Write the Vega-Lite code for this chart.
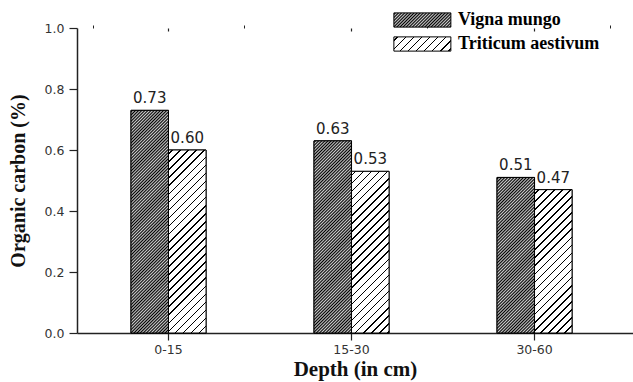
{
  "$schema": "https://vega.github.io/schema/vega-lite/v6.json",
  "width": 556,
  "height": 305,
  "autosize": "none",
  "padding": {"left": 77, "top": 28, "right": 0, "bottom": 49},
  "background": "white",
  "params": [
    {"name": "dense", "value": [
      {"offset":0,"color":"#ccc"},{"offset":0.005,"color":"#000"},{"offset":0.01,"color":"#ccc"},{"offset":0.015,"color":"#000"},{"offset":0.02,"color":"#ccc"},{"offset":0.025,"color":"#000"},{"offset":0.03,"color":"#ccc"},{"offset":0.035,"color":"#000"},{"offset":0.04,"color":"#ccc"},{"offset":0.045,"color":"#000"},
      {"offset":0.05,"color":"#ccc"},{"offset":0.055,"color":"#000"},{"offset":0.06,"color":"#ccc"},{"offset":0.065,"color":"#000"},{"offset":0.07,"color":"#ccc"},{"offset":0.075,"color":"#000"},{"offset":0.08,"color":"#ccc"},{"offset":0.085,"color":"#000"},{"offset":0.09,"color":"#ccc"},{"offset":0.095,"color":"#000"},
      {"offset":0.1,"color":"#ccc"},{"offset":0.105,"color":"#000"},{"offset":0.11,"color":"#ccc"},{"offset":0.115,"color":"#000"},{"offset":0.12,"color":"#ccc"},{"offset":0.125,"color":"#000"},{"offset":0.13,"color":"#ccc"},{"offset":0.135,"color":"#000"},{"offset":0.14,"color":"#ccc"},{"offset":0.145,"color":"#000"},
      {"offset":0.15,"color":"#ccc"},{"offset":0.155,"color":"#000"},{"offset":0.16,"color":"#ccc"},{"offset":0.165,"color":"#000"},{"offset":0.17,"color":"#ccc"},{"offset":0.175,"color":"#000"},{"offset":0.18,"color":"#ccc"},{"offset":0.185,"color":"#000"},{"offset":0.19,"color":"#ccc"},{"offset":0.195,"color":"#000"},
      {"offset":0.2,"color":"#ccc"},{"offset":0.205,"color":"#000"},{"offset":0.21,"color":"#ccc"},{"offset":0.215,"color":"#000"},{"offset":0.22,"color":"#ccc"},{"offset":0.225,"color":"#000"},{"offset":0.23,"color":"#ccc"},{"offset":0.235,"color":"#000"},{"offset":0.24,"color":"#ccc"},{"offset":0.245,"color":"#000"},
      {"offset":0.25,"color":"#ccc"},{"offset":0.255,"color":"#000"},{"offset":0.26,"color":"#ccc"},{"offset":0.265,"color":"#000"},{"offset":0.27,"color":"#ccc"},{"offset":0.275,"color":"#000"},{"offset":0.28,"color":"#ccc"},{"offset":0.285,"color":"#000"},{"offset":0.29,"color":"#ccc"},{"offset":0.295,"color":"#000"},
      {"offset":0.3,"color":"#ccc"},{"offset":0.305,"color":"#000"},{"offset":0.31,"color":"#ccc"},{"offset":0.315,"color":"#000"},{"offset":0.32,"color":"#ccc"},{"offset":0.325,"color":"#000"},{"offset":0.33,"color":"#ccc"},{"offset":0.335,"color":"#000"},{"offset":0.34,"color":"#ccc"},{"offset":0.345,"color":"#000"},
      {"offset":0.35,"color":"#ccc"},{"offset":0.355,"color":"#000"},{"offset":0.36,"color":"#ccc"},{"offset":0.365,"color":"#000"},{"offset":0.37,"color":"#ccc"},{"offset":0.375,"color":"#000"},{"offset":0.38,"color":"#ccc"},{"offset":0.385,"color":"#000"},{"offset":0.39,"color":"#ccc"},{"offset":0.395,"color":"#000"},
      {"offset":0.4,"color":"#ccc"},{"offset":0.405,"color":"#000"},{"offset":0.41,"color":"#ccc"},{"offset":0.415,"color":"#000"},{"offset":0.42,"color":"#ccc"},{"offset":0.425,"color":"#000"},{"offset":0.43,"color":"#ccc"},{"offset":0.435,"color":"#000"},{"offset":0.44,"color":"#ccc"},{"offset":0.445,"color":"#000"},
      {"offset":0.45,"color":"#ccc"},{"offset":0.455,"color":"#000"},{"offset":0.46,"color":"#ccc"},{"offset":0.465,"color":"#000"},{"offset":0.47,"color":"#ccc"},{"offset":0.475,"color":"#000"},{"offset":0.48,"color":"#ccc"},{"offset":0.485,"color":"#000"},{"offset":0.49,"color":"#ccc"},{"offset":0.495,"color":"#000"},
      {"offset":0.5,"color":"#ccc"},{"offset":0.505,"color":"#000"},{"offset":0.51,"color":"#ccc"},{"offset":0.515,"color":"#000"},{"offset":0.52,"color":"#ccc"},{"offset":0.525,"color":"#000"},{"offset":0.53,"color":"#ccc"},{"offset":0.535,"color":"#000"},{"offset":0.54,"color":"#ccc"},{"offset":0.545,"color":"#000"},
      {"offset":0.55,"color":"#ccc"},{"offset":0.555,"color":"#000"},{"offset":0.56,"color":"#ccc"},{"offset":0.565,"color":"#000"},{"offset":0.57,"color":"#ccc"},{"offset":0.575,"color":"#000"},{"offset":0.58,"color":"#ccc"},{"offset":0.585,"color":"#000"},{"offset":0.59,"color":"#ccc"},{"offset":0.595,"color":"#000"},
      {"offset":0.6,"color":"#ccc"},{"offset":0.605,"color":"#000"},{"offset":0.61,"color":"#ccc"},{"offset":0.615,"color":"#000"},{"offset":0.62,"color":"#ccc"},{"offset":0.625,"color":"#000"},{"offset":0.63,"color":"#ccc"},{"offset":0.635,"color":"#000"},{"offset":0.64,"color":"#ccc"},{"offset":0.645,"color":"#000"},
      {"offset":0.65,"color":"#ccc"},{"offset":0.655,"color":"#000"},{"offset":0.66,"color":"#ccc"},{"offset":0.665,"color":"#000"},{"offset":0.67,"color":"#ccc"},{"offset":0.675,"color":"#000"},{"offset":0.68,"color":"#ccc"},{"offset":0.685,"color":"#000"},{"offset":0.69,"color":"#ccc"},{"offset":0.695,"color":"#000"},
      {"offset":0.7,"color":"#ccc"},{"offset":0.705,"color":"#000"},{"offset":0.71,"color":"#ccc"},{"offset":0.715,"color":"#000"},{"offset":0.72,"color":"#ccc"},{"offset":0.725,"color":"#000"},{"offset":0.73,"color":"#ccc"},{"offset":0.735,"color":"#000"},{"offset":0.74,"color":"#ccc"},{"offset":0.745,"color":"#000"},
      {"offset":0.75,"color":"#ccc"},{"offset":0.755,"color":"#000"},{"offset":0.76,"color":"#ccc"},{"offset":0.765,"color":"#000"},{"offset":0.77,"color":"#ccc"},{"offset":0.775,"color":"#000"},{"offset":0.78,"color":"#ccc"},{"offset":0.785,"color":"#000"},{"offset":0.79,"color":"#ccc"},{"offset":0.795,"color":"#000"},
      {"offset":0.8,"color":"#ccc"},{"offset":0.805,"color":"#000"},{"offset":0.81,"color":"#ccc"},{"offset":0.815,"color":"#000"},{"offset":0.82,"color":"#ccc"},{"offset":0.825,"color":"#000"},{"offset":0.83,"color":"#ccc"},{"offset":0.835,"color":"#000"},{"offset":0.84,"color":"#ccc"},{"offset":0.845,"color":"#000"},
      {"offset":0.85,"color":"#ccc"}
    ]},
    {"name": "sparse", "value": [
      {"offset":0,"color":"#fff"},
      {"offset":0.012,"color":"#fff"},{"offset":0.012,"color":"#000"},{"offset":0.018,"color":"#000"},{"offset":0.018,"color":"#fff"},
      {"offset":0.042,"color":"#fff"},{"offset":0.042,"color":"#000"},{"offset":0.048,"color":"#000"},{"offset":0.048,"color":"#fff"},
      {"offset":0.072,"color":"#fff"},{"offset":0.072,"color":"#000"},{"offset":0.078,"color":"#000"},{"offset":0.078,"color":"#fff"},
      {"offset":0.102,"color":"#fff"},{"offset":0.102,"color":"#000"},{"offset":0.108,"color":"#000"},{"offset":0.108,"color":"#fff"},
      {"offset":0.132,"color":"#fff"},{"offset":0.132,"color":"#000"},{"offset":0.138,"color":"#000"},{"offset":0.138,"color":"#fff"},
      {"offset":0.162,"color":"#fff"},{"offset":0.162,"color":"#000"},{"offset":0.168,"color":"#000"},{"offset":0.168,"color":"#fff"},
      {"offset":0.192,"color":"#fff"},{"offset":0.192,"color":"#000"},{"offset":0.198,"color":"#000"},{"offset":0.198,"color":"#fff"},
      {"offset":0.222,"color":"#fff"},{"offset":0.222,"color":"#000"},{"offset":0.228,"color":"#000"},{"offset":0.228,"color":"#fff"},
      {"offset":0.252,"color":"#fff"},{"offset":0.252,"color":"#000"},{"offset":0.258,"color":"#000"},{"offset":0.258,"color":"#fff"},
      {"offset":0.282,"color":"#fff"},{"offset":0.282,"color":"#000"},{"offset":0.288,"color":"#000"},{"offset":0.288,"color":"#fff"},
      {"offset":0.312,"color":"#fff"},{"offset":0.312,"color":"#000"},{"offset":0.318,"color":"#000"},{"offset":0.318,"color":"#fff"},
      {"offset":0.342,"color":"#fff"},{"offset":0.342,"color":"#000"},{"offset":0.348,"color":"#000"},{"offset":0.348,"color":"#fff"},
      {"offset":0.372,"color":"#fff"},{"offset":0.372,"color":"#000"},{"offset":0.378,"color":"#000"},{"offset":0.378,"color":"#fff"},
      {"offset":0.402,"color":"#fff"},{"offset":0.402,"color":"#000"},{"offset":0.408,"color":"#000"},{"offset":0.408,"color":"#fff"},
      {"offset":0.432,"color":"#fff"},{"offset":0.432,"color":"#000"},{"offset":0.438,"color":"#000"},{"offset":0.438,"color":"#fff"},
      {"offset":0.462,"color":"#fff"},{"offset":0.462,"color":"#000"},{"offset":0.468,"color":"#000"},{"offset":0.468,"color":"#fff"},
      {"offset":0.492,"color":"#fff"},{"offset":0.492,"color":"#000"},{"offset":0.498,"color":"#000"},{"offset":0.498,"color":"#fff"},
      {"offset":0.522,"color":"#fff"},{"offset":0.522,"color":"#000"},{"offset":0.528,"color":"#000"},{"offset":0.528,"color":"#fff"},
      {"offset":0.552,"color":"#fff"},{"offset":0.552,"color":"#000"},{"offset":0.558,"color":"#000"},{"offset":0.558,"color":"#fff"},
      {"offset":0.582,"color":"#fff"},{"offset":0.582,"color":"#000"},{"offset":0.588,"color":"#000"},{"offset":0.588,"color":"#fff"},
      {"offset":0.612,"color":"#fff"},{"offset":0.612,"color":"#000"},{"offset":0.618,"color":"#000"},{"offset":0.618,"color":"#fff"},
      {"offset":0.642,"color":"#fff"},{"offset":0.642,"color":"#000"},{"offset":0.648,"color":"#000"},{"offset":0.648,"color":"#fff"},
      {"offset":0.672,"color":"#fff"},{"offset":0.672,"color":"#000"},{"offset":0.678,"color":"#000"},{"offset":0.678,"color":"#fff"},
      {"offset":0.702,"color":"#fff"},{"offset":0.702,"color":"#000"},{"offset":0.708,"color":"#000"},{"offset":0.708,"color":"#fff"},
      {"offset":0.732,"color":"#fff"},{"offset":0.732,"color":"#000"},{"offset":0.738,"color":"#000"},{"offset":0.738,"color":"#fff"},
      {"offset":0.762,"color":"#fff"},{"offset":0.762,"color":"#000"},{"offset":0.768,"color":"#000"},{"offset":0.768,"color":"#fff"},
      {"offset":0.792,"color":"#fff"},{"offset":0.792,"color":"#000"},{"offset":0.798,"color":"#000"},{"offset":0.798,"color":"#fff"},
      {"offset":0.822,"color":"#fff"},{"offset":0.822,"color":"#000"},{"offset":0.828,"color":"#000"},{"offset":0.828,"color":"#fff"},
      {"offset":0.852,"color":"#fff"},{"offset":0.852,"color":"#000"},{"offset":0.858,"color":"#000"},{"offset":0.858,"color":"#fff"}
    ]}
  ],
  "data": {"values": [
    {"depth": "0-15", "crop": "Vigna mungo", "value": 0.73},
    {"depth": "0-15", "crop": "Triticum aestivum", "value": 0.60},
    {"depth": "15-30", "crop": "Vigna mungo", "value": 0.63},
    {"depth": "15-30", "crop": "Triticum aestivum", "value": 0.53},
    {"depth": "30-60", "crop": "Vigna mungo", "value": 0.51},
    {"depth": "30-60", "crop": "Triticum aestivum", "value": 0.47}
  ]},
  "layer": [
    {
      "mark": {"type": "bar", "stroke": "black", "strokeWidth": 1},
      "encoding": {
        "x": {"field": "depth", "type": "nominal", "sort": ["0-15", "15-30", "30-60"],
          "scale": {"paddingInner": 0.18, "paddingOuter": 0.109, "align": 0.413},
          "axis": {"title": "Depth (in cm)", "labelAngle": 0, "tickSize": 7, "labelPadding": 3,
            "labelFont": "DejaVu Sans", "labelFontSize": 12.5, "labelColor": "#333",
            "titleFont": "Liberation Serif", "titleFontWeight": "bold", "titleFontSize": 21, "titleColor": "#111",
            "titleY": 42, "titleBaseline": "alphabetic",
            "domainColor": "#222", "domainWidth": 1.5, "tickColor": "#222", "tickWidth": 1.2}},
        "xOffset": {"field": "crop", "type": "nominal", "sort": ["Vigna mungo", "Triticum aestivum"],
          "scale": {"paddingInner": 0, "paddingOuter": 1}},
        "y": {"field": "value", "type": "quantitative",
          "scale": {"domain": [0, 1], "nice": false},
          "axis": {"title": "Organic carbon (%)", "values": [0, 0.2, 0.4, 0.6, 0.8, 1.0], "format": ".1f",
            "tickSize": 8, "labelPadding": 5,
            "labelFont": "DejaVu Sans", "labelFontSize": 12.5, "labelColor": "#333",
            "titleFont": "Liberation Serif", "titleFontWeight": "bold", "titleFontSize": 20, "titleColor": "#111",
            "titleX": -53, "titleAngle": -90, "titleAlign": "center", "titleBaseline": "alphabetic",
            "encode": {"title": {"y": {"value": 131}}},
            "domainColor": "#222", "domainWidth": 1.5, "tickColor": "#222", "tickWidth": 1.2}},
        "color": {"field": "crop", "type": "nominal", "sort": ["Vigna mungo", "Triticum aestivum"],
          "scale": {"range": [
            {"expr": "{gradient:'linear',x1:0,y1:0,x2:5.137,y2:1.284,stops:dense}"},
            {"expr": "{gradient:'linear',x1:0,y1:0,x2:4.437,y2:1.109,stops:sparse}"}
          ]},
          "legend": {"title": null, "orient": "none", "legendX": 315, "legendY": -17,
            "symbolType": "M-1,-1H7V1H-1Z", "symbolSize": 203,
            "symbolStrokeColor": "black", "symbolStrokeWidth": 1,
            "labelFont": "Liberation Serif", "labelFontWeight": "bold", "labelFontSize": 18, "labelColor": "#000",
            "labelOffset": 48, "rowPadding": 4, "padding": 0, "labelLimit": 300,
            "encode": {"symbols": {"update": {"stroke": {"value": "black"}, "strokeWidth": {"value": 1}}}}}}
      }
    },
    {
      "mark": {"type": "bar", "stroke": "black", "strokeWidth": 1,
        "fill": {"expr": "{gradient:'linear',x1:0,y1:0,x2:(datum.crop==='Vigna mungo'?311.13:268.7)*37.5/(1406.25+pow(datum.value*305,2)),y2:(datum.crop==='Vigna mungo'?311.13:268.7)*datum.value*305/(1406.25+pow(datum.value*305,2)),stops:datum.crop==='Vigna mungo'?dense:sparse}"}},
      "encoding": {
        "x": {"field": "depth", "type": "nominal", "sort": ["0-15", "15-30", "30-60"],
          "axis": {"tickBand": "extent", "tickSize": 3, "labels": false, "domain": false, "title": null, "tickColor": "#222"}},
        "xOffset": {"field": "crop", "type": "nominal", "sort": ["Vigna mungo", "Triticum aestivum"]},
        "y": {"field": "value", "type": "quantitative",
          "axis": {"values": [0.1, 0.3, 0.5, 0.7, 0.9], "tickSize": 4, "labels": false, "domain": false, "title": null, "tickColor": "#222"}}
      }
    },
    {
      "mark": {"type": "text", "dy": -7, "baseline": "alphabetic", "font": "DejaVu Sans", "fontSize": 15, "fill": "#222"},
      "encoding": {
        "x": {"field": "depth", "type": "nominal", "sort": ["0-15", "15-30", "30-60"],
          "axis": {"tickSize": -3, "labels": false, "domain": false, "title": null, "tickColor": "#222", "tickWidth": 1.2}},
        "xOffset": {"field": "crop", "type": "nominal", "sort": ["Vigna mungo", "Triticum aestivum"]},
        "y": {"field": "value", "type": "quantitative", "axis": null},
        "text": {"field": "value", "type": "quantitative", "format": ".2f"}
      }
    }
  ],
  "resolve": {"axis": {"x": "independent", "y": "independent"}},
  "config": {
    "view": {"stroke": null},
    "axis": {"grid": false, "labelOverlap": false}
  }
}
